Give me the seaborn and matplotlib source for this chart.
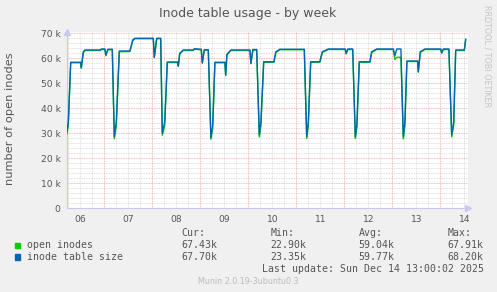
import matplotlib
matplotlib.use("Agg")
import matplotlib.pyplot as plt
import numpy as np
import pandas as pd
import seaborn as sns

# ---------------- data (hours since Dec 7 00:00, values in thousands) ----------------
hours = [-18.8, -18.0, -16.8, -11.8, -11.5, -10.5, -9.7, -2.0, -1.5, 0.3, 0.8, 1.8, 4.0,
         5.0, 6.0, 7.5, 12.8, 14.2, 15.3, 24.5, 25.0, 26.2, 28.2,
         29.0, 30.2, 31.5, 36.7, 37.0, 37.7, 39.5, 44.5, 45.0, 48.5, 49.0, 50.0, 52.0,
         53.3, 54.2, 55.3, 60.3, 60.7, 61.3, 63.3, 72.8, 73.3, 74.3, 76.2,
         77.5, 78.3, 79.7, 84.8, 85.8, 87.8, 100.0,
         101.2, 102.0, 103.2, 107.8, 109.0, 112.0, 120.5, 120.9, 121.8, 124.2,
         125.5, 126.3, 127.5, 132.8, 133.7, 136.2, 144.5, 145.3, 146.2, 148.3,
         149.5, 150.3, 151.3, 156.7, 157.0, 158.0, 160.3, 168.2, 168.7, 169.5, 172.3,
         173.7, 174.7, 175.7, 180.0, 180.7]

table_size = [30.0, 34.5, 58.4, 58.4, 56.4, 62.6, 63.3, 63.3, 63.7, 63.7, 61.3, 63.6, 63.6,
              28.6, 34.6, 62.9, 62.9, 67.3, 68.0, 68.0, 60.4, 68.0, 68.0,
              30.0, 34.6, 58.5, 58.5, 57.0, 62.0, 63.3, 63.3, 63.8, 63.6, 58.2, 63.4, 63.4,
              28.2, 33.3, 58.4, 58.4, 53.3, 61.6, 63.3, 63.3, 58.0, 63.5, 63.5,
              29.3, 34.6, 58.6, 58.6, 62.6, 63.6, 63.6,
              28.6, 34.6, 58.6, 58.6, 62.6, 63.7, 63.7, 62.0, 63.7, 63.7,
              28.6, 33.8, 58.6, 58.6, 62.6, 63.7, 63.7, 61.0, 63.7, 63.7,
              28.6, 34.6, 58.9, 58.9, 54.6, 62.6, 63.7, 63.7, 62.2, 63.7, 63.7,
              29.3, 34.6, 63.3, 63.3, 67.7]

open_inodes = [29.5, 33.0, 58.2, 58.2, 56.0, 62.2, 63.1, 63.1, 63.5, 63.5, 61.0, 63.4, 63.4,
               27.8, 33.0, 62.6, 62.7, 67.0, 67.8, 67.8, 60.2, 67.8, 67.8,
               29.2, 33.0, 58.3, 58.3, 56.7, 61.7, 63.1, 63.1, 63.6, 63.4, 58.0, 63.2, 63.2,
               27.6, 32.0, 58.2, 58.2, 53.1, 61.3, 63.1, 63.1, 57.8, 63.3, 63.3,
               28.5, 33.0, 58.4, 58.4, 62.3, 63.4, 63.4,
               27.9, 33.0, 58.4, 58.4, 62.3, 63.5, 63.5, 61.7, 63.5, 63.5,
               27.9, 32.5, 58.4, 58.4, 62.3, 63.5, 63.5, 59.5, 60.4, 60.4,
               27.8, 33.0, 58.7, 58.7, 54.4, 62.3, 63.5, 63.5, 62.0, 63.5, 63.5,
               28.6, 33.0, 63.1, 63.1, 67.4]

series_names = ["open inodes", "inode table size"]
series_colors = ["#00CC00", "#0066B3"]
cur_vals = ["67.43k", "67.70k"]
min_vals = ["22.90k", "23.35k"]
avg_vals = ["59.04k", "59.77k"]
max_vals = ["67.91k", "68.20k"]

y_ticks = [0, 10, 20, 30, 40, 50, 60, 70]
y_tick_labels = ["0", "10 k", "20 k", "30 k", "40 k", "50 k", "60 k", "70 k"]
day_noons = [-12, 12, 36, 60, 84, 108, 132, 156, 180]
day_labels = ["06", "07", "08", "09", "10", "11", "12", "13", "14"]
midnights = [0, 24, 48, 72, 96, 120, 144, 168]

title = "Inode table usage - by week"
ylabel = "number of open inodes"
last_update = "Last update: Sun Dec 14 13:00:02 2025"
version = "Munin 2.0.19-3ubuntu0.3"
side_text = "RRDTOOL / TOBI OETIKER"

# ---------------- figure ----------------
W, H = 497, 292
BG = "#F0F0F0"
TXT = "#555555"
AXC = "#C8C8F0"

sns.set_style("white")
plt.rcParams["font.family"] = ["DejaVu Sans"]

fig = plt.figure(figsize=(W / 100, H / 100), dpi=100, facecolor=BG)

L, R, T, B = 66.7, 468.3, 31.5, 208.3
ax = fig.add_axes([L / W, 1 - B / H, (R - L) / W, (B - T) / H])
ax.set_facecolor("white")
ax.set_xlim(-18.8, 182)
ax.set_ylim(0, 70.7)

# grid
for v in np.arange(0, 71, 2):
    if v % 10 == 0:
        continue
    ax.axhline(v, color="#D6D6D6", lw=0.6, ls=(0, (1, 1)), zorder=0)
for v in y_ticks[1:]:
    ax.axhline(v, color="#F4A0A0", lw=0.6, ls=(0, (1, 1)), zorder=0.5)
for v in np.arange(-18, 182, 6):
    if v % 24 == 0:
        continue
    ax.axvline(v, color="#D6D6D6", lw=0.6, ls=(0, (1, 1)), zorder=0)
for v in midnights:
    ax.axvline(v, color="#F4A0A0", lw=0.6, ls=(0, (1, 1)), zorder=0.5)

df = pd.concat([
    pd.DataFrame({"hours": hours, "value": open_inodes, "series": series_names[0]}),
    pd.DataFrame({"hours": hours, "value": table_size, "series": series_names[1]}),
])
sns.lineplot(data=df, x="hours", y="value", hue="series", hue_order=series_names,
             palette=series_colors, estimator=None, sort=False, lw=1.0,
             legend=False, ax=ax, zorder=3)

ax.set_xlabel("")
ax.set_ylabel("")
for s in ["top", "right"]:
    ax.spines[s].set_visible(False)
for s in ["left", "bottom"]:
    ax.spines[s].set_color(AXC)
    ax.spines[s].set_linewidth(0.8)

ax.set_yticks(y_ticks)
ax.set_yticklabels(y_tick_labels)
ax.set_xticks(day_noons)
ax.set_xticklabels(day_labels)
ax.tick_params(axis="both", labelsize=6.6, labelcolor=TXT, color=AXC,
               length=0)
ax.tick_params(axis="y", pad=4.3)
ax.tick_params(axis="x", pad=4.5)

# axis arrows
ax.plot([0], [1.0], marker="^", ms=4, color=AXC, transform=ax.transAxes, clip_on=False)
ax.plot([1.0], [0], marker=">", ms=4, color=AXC, transform=ax.transAxes, clip_on=False)

def fx(x):
    return x / W

def fy(y):
    return 1 - y / H

fig.text(fx(248), fy(14), title, ha="center", va="center", fontsize=9, color=TXT)
fig.text(fx(10.5), fy(119), ylabel, ha="center", va="center", rotation=90,
         fontsize=8.2, color=TXT)
fig.text(fx(487.5), fy(56.5), side_text, ha="center", va="center", rotation=270,
         fontsize=5.8, color="#C4C4C4")
fig.text(fx(248.5), fy(281), version, ha="center", va="center", fontsize=5.8,
         color="#BBBBBB")

mono = dict(family="DejaVu Sans Mono", fontsize=7.1, color=TXT, va="center")
cols_x = [181.7, 270.7, 358.7, 447.7]
for cx, head in zip(cols_x, ["Cur:", "Min:", "Avg:", "Max:"]):
    fig.text(fx(cx), fy(232.7), head, **mono)
rows_y = [245, 256.7]
for i, name in enumerate(series_names):
    yy = rows_y[i]
    fig.patches.append(plt.Rectangle((fx(14.5), fy(yy + 3)), 5.5 / W, 5.5 / H,
                                     transform=fig.transFigure, color=series_colors[i]))
    fig.text(fx(26.7), fy(yy), name, **mono)
    for cx, val in zip(cols_x, [cur_vals[i], min_vals[i], avg_vals[i], max_vals[i]]):
        fig.text(fx(cx), fy(yy), val, **mono)
fig.text(fx(261.7), fy(268.7), last_update, **mono)

fig.savefig("out.png", dpi=100, facecolor=BG)
